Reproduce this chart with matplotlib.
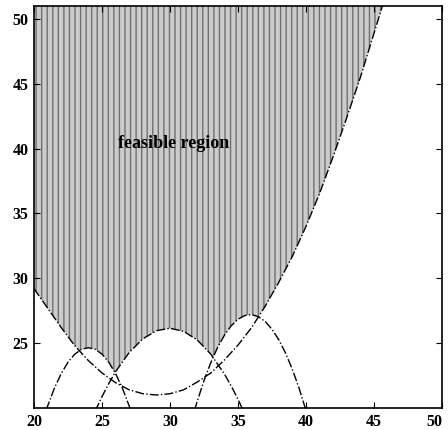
import matplotlib
matplotlib.use('Agg')
import matplotlib.pyplot as plt

# Curva convessa
u_x = [20, 21, 22, 23, 24, 25, 26, 27, 28, 29, 30, 31, 32, 33, 34, 35, 36, 37, 38, 39, 40, 41, 42, 43, 44, 45, 46]
u_y = [29.2, 27.7, 26.2, 24.8, 23.65, 22.7, 21.95, 21.4, 21.1, 21.0, 21.1, 21.4, 22.0, 22.7, 23.7, 24.85,
       26.2, 27.85, 29.7, 31.7, 34.0, 36.55, 39.4, 42.4, 45.5, 48.9, 52.3]

# Prima parabola concava
p1_x = [20.9, 21.0, 21.5, 22.0, 22.5, 23.0, 23.5, 24.0, 24.5, 25.0, 25.5, 26.0, 26.5, 27.0, 27.1]
p1_y = [19.85, 20.15, 21.53, 22.65, 23.53, 24.15, 24.53, 24.65, 24.53, 24.15, 23.53, 22.65, 21.53, 20.15, 19.85]

# Seconda parabola concava
p2_x = [24.5, 25, 25.5, 26, 27, 28, 29, 30, 31, 32, 33, 34, 34.5, 35, 35.4]
p2_y = [19.76, 20.88, 21.89, 22.80, 24.28, 25.33, 25.96, 26.15, 25.91, 25.25, 24.15, 22.62, 21.70, 20.67, 19.76]

# Terza parabola concava
p3_x = [31.8, 32, 32.5, 33, 33.5, 34, 34.5, 35, 35.5, 36, 36.5, 37, 37.5, 38, 38.5, 39, 39.5, 40]
p3_y = [19.80, 20.51, 22.11, 23.50, 24.67, 25.61, 26.34, 26.84, 27.13, 27.20, 27.04, 26.67, 26.07,
        25.26, 24.23, 22.97, 21.50, 19.80]

# Bordo inferiore della regione ammissibile
feas_x = [20, 21, 22, 23, 23.3, 23.5, 24, 24.5, 25, 25.5, 25.95, 26.5, 27, 28, 29, 30, 31, 32, 33, 33.15,
          33.5, 34, 34.5, 35, 35.5, 36, 36.5, 37, 38, 39, 40, 41, 42, 43, 44, 45, 45.6]
feas_y = [29.2, 27.7, 26.2, 24.8, 24.42, 24.53, 24.65, 24.53, 24.15, 23.53, 22.73, 23.59, 24.28, 25.33,
          25.96, 26.15, 25.91, 25.25, 24.15, 23.92, 24.67, 25.61, 26.34, 26.84, 27.13, 27.20, 27.03,
          27.85, 29.7, 31.7, 34.0, 36.55, 39.4, 42.4, 45.5, 48.9, 51.0]

x_ticks = [20, 25, 30, 35, 40, 45, 50]
y_ticks = [25, 30, 35, 40, 45, 50]
y_top = 51

plt.rcParams['hatch.linewidth'] = 1.0

fig = plt.figure(figsize=(4.48, 4.3), dpi=100)
ax = fig.add_axes([0.0759, 0.0512, 0.9107, 0.9349])

# Regione ammissibile tratteggiata
ax.fill_between(feas_x, feas_y, y_top, facecolor='#cccccc', edgecolor='#707070',
                hatch='|||', linewidth=0)

# Curve di vincolo
for xs, ys in [(u_x, u_y), (p1_x, p1_y), (p2_x, p2_y), (p3_x, p3_y)]:
    ax.plot(xs, ys, color='black', linestyle='-.', linewidth=1.0)

ax.text(30.3, 40.4, 'feasible region', ha='center', va='center',
        family='Liberation Serif', fontsize=13, fontweight='bold', color='black')

ax.set_xlim(20, 50)
ax.set_ylim(20, y_top)
ax.set_xticks(x_ticks)
ax.set_yticks(y_ticks)
ax.tick_params(direction='in', top=True, right=True, length=4, width=0.8, pad=4)
for lab in ax.get_xticklabels() + ax.get_yticklabels():
    lab.set_family('Liberation Serif')
    lab.set_fontweight('bold')
    lab.set_fontsize(11.5)

# L'ultima etichetta dell'asse x resta dentro la figura
ax.get_xticklabels()[-1].set_horizontalalignment('right')

for spine in ax.spines.values():
    spine.set_linewidth(1.2)

plt.savefig('out.png', dpi=100)
plt.close()
